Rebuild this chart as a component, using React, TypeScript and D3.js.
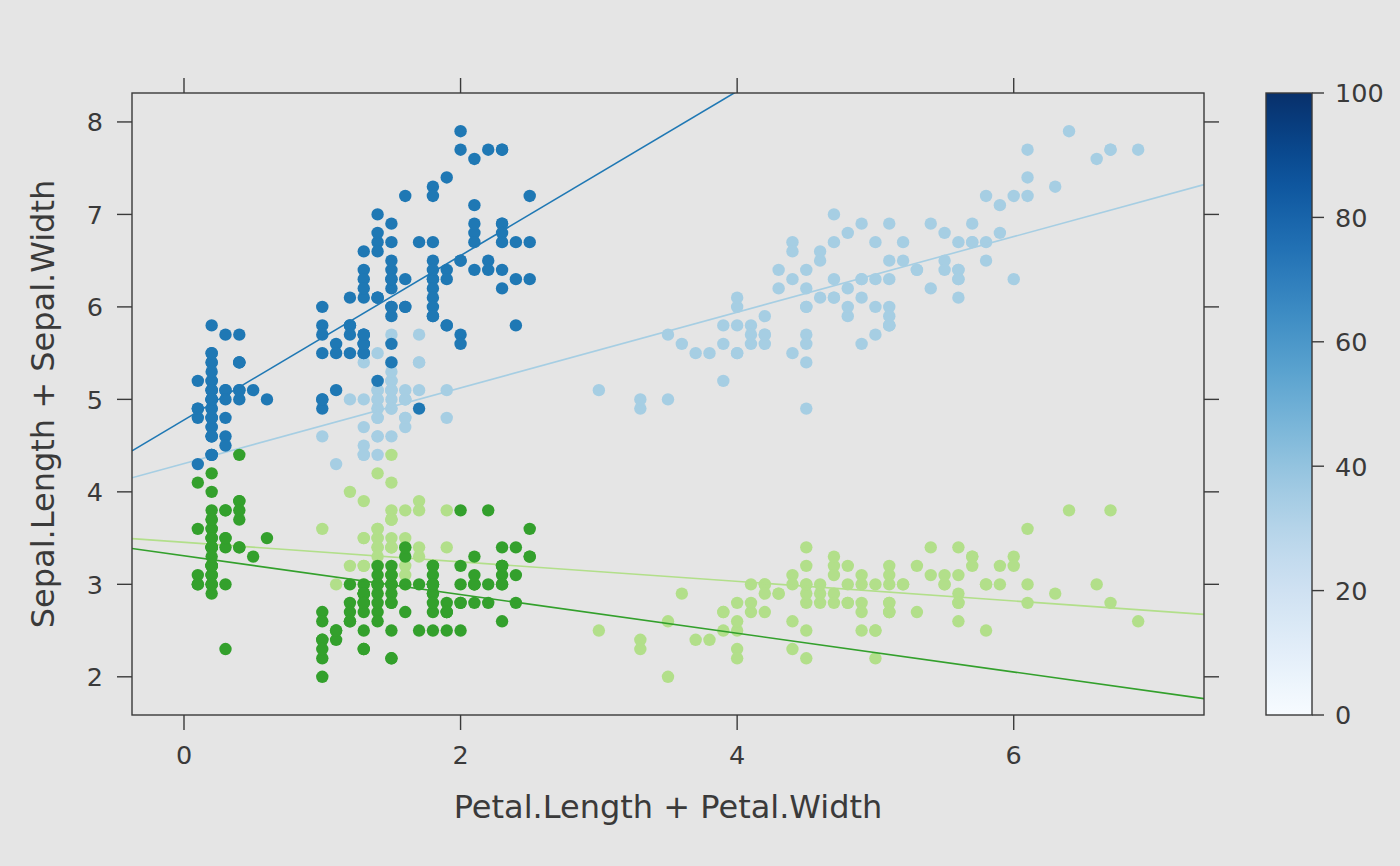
import React, { useEffect } from "react";
import * as d3 from "d3";

// Edgar Anderson's iris data (150 rows)
const sepalLength = [
  5.1, 4.9, 4.7, 4.6, 5.0, 5.4, 4.6, 5.0, 4.4, 4.9, 5.4, 4.8, 4.8, 4.3, 5.8, 5.7, 5.4, 5.1, 5.7, 5.1,
  5.4, 5.1, 4.6, 5.1, 4.8, 5.0, 5.0, 5.2, 5.2, 4.7, 4.8, 5.4, 5.2, 5.5, 4.9, 5.0, 5.5, 4.9, 4.4, 5.1,
  5.0, 4.5, 4.4, 5.0, 5.1, 4.8, 5.1, 4.6, 5.3, 5.0,
  7.0, 6.4, 6.9, 5.5, 6.5, 5.7, 6.3, 4.9, 6.6, 5.2, 5.0, 5.9, 6.0, 6.1, 5.6, 6.7, 5.6, 5.8, 6.2, 5.6,
  5.9, 6.1, 6.3, 6.1, 6.4, 6.6, 6.8, 6.7, 6.0, 5.7, 5.5, 5.5, 5.8, 6.0, 5.4, 6.0, 6.7, 6.3, 5.6, 5.5,
  5.5, 6.1, 5.8, 5.0, 5.6, 5.7, 5.7, 6.2, 5.1, 5.7,
  6.3, 5.8, 7.1, 6.3, 6.5, 7.6, 4.9, 7.3, 6.7, 7.2, 6.5, 6.4, 6.8, 5.7, 5.8, 6.4, 6.5, 7.7, 7.7, 6.0,
  6.9, 5.6, 7.7, 6.3, 6.7, 7.2, 6.2, 6.1, 6.4, 7.2, 7.4, 7.9, 6.4, 6.3, 6.1, 7.7, 6.3, 6.4, 6.0, 6.9,
  6.7, 6.9, 5.8, 6.8, 6.7, 6.7, 6.3, 6.5, 6.2, 5.9,
];
const sepalWidth = [
  3.5, 3.0, 3.2, 3.1, 3.6, 3.9, 3.4, 3.4, 2.9, 3.1, 3.7, 3.4, 3.0, 3.0, 4.0, 4.4, 3.9, 3.5, 3.8, 3.8,
  3.4, 3.7, 3.6, 3.3, 3.4, 3.0, 3.4, 3.5, 3.4, 3.2, 3.1, 3.4, 4.1, 4.2, 3.1, 3.2, 3.5, 3.6, 3.0, 3.4,
  3.5, 2.3, 3.2, 3.5, 3.8, 3.0, 3.8, 3.2, 3.7, 3.3,
  3.2, 3.2, 3.1, 2.3, 2.8, 2.8, 3.3, 2.4, 2.9, 2.7, 2.0, 3.0, 2.2, 2.9, 2.9, 3.1, 3.0, 2.7, 2.2, 2.5,
  3.2, 2.8, 2.5, 2.8, 2.9, 3.0, 2.8, 3.0, 2.9, 2.6, 2.4, 2.4, 2.7, 2.7, 3.0, 3.4, 3.1, 2.3, 3.0, 2.5,
  2.6, 3.0, 2.6, 2.3, 2.7, 3.0, 2.9, 2.9, 2.5, 2.8,
  3.3, 2.7, 3.0, 2.9, 3.0, 3.0, 2.5, 2.9, 2.5, 3.6, 3.2, 2.7, 3.0, 2.5, 2.8, 3.2, 3.0, 3.8, 2.6, 2.2,
  3.2, 2.8, 2.8, 2.7, 3.3, 3.2, 2.8, 3.0, 2.8, 3.0, 2.8, 3.8, 2.8, 2.8, 2.6, 3.0, 3.4, 3.1, 3.0, 3.1,
  3.1, 3.1, 2.7, 3.2, 3.3, 3.0, 2.5, 3.0, 3.4, 3.0,
];
const petalLength = [
  1.4, 1.4, 1.3, 1.5, 1.4, 1.7, 1.4, 1.5, 1.4, 1.5, 1.5, 1.6, 1.4, 1.1, 1.2, 1.5, 1.3, 1.4, 1.7, 1.5,
  1.7, 1.5, 1.0, 1.7, 1.9, 1.6, 1.6, 1.5, 1.4, 1.6, 1.6, 1.5, 1.5, 1.4, 1.5, 1.2, 1.3, 1.4, 1.3, 1.5,
  1.3, 1.3, 1.3, 1.6, 1.9, 1.4, 1.6, 1.4, 1.5, 1.4,
  4.7, 4.5, 4.9, 4.0, 4.6, 4.5, 4.7, 3.3, 4.6, 3.9, 3.5, 4.2, 4.0, 4.7, 3.6, 4.4, 4.5, 4.1, 4.5, 3.9,
  4.8, 4.0, 4.9, 4.7, 4.3, 4.4, 4.8, 5.0, 4.5, 3.5, 3.8, 3.7, 3.9, 5.1, 4.5, 4.5, 4.7, 4.4, 4.1, 4.0,
  4.4, 4.6, 4.0, 3.3, 4.2, 4.2, 4.2, 4.3, 3.0, 4.1,
  6.0, 5.1, 5.9, 5.6, 5.8, 6.6, 4.5, 6.3, 5.8, 6.1, 5.1, 5.3, 5.5, 5.0, 5.1, 5.3, 5.5, 6.7, 6.9, 5.0,
  5.7, 4.9, 6.7, 4.9, 5.7, 6.0, 4.8, 4.9, 5.6, 5.8, 6.1, 6.4, 5.6, 5.1, 5.6, 6.1, 5.6, 5.5, 4.8, 5.4,
  5.6, 5.1, 5.1, 5.9, 5.7, 5.2, 5.0, 5.2, 5.4, 5.1,
];
const petalWidth = [
  0.2, 0.2, 0.2, 0.2, 0.2, 0.4, 0.3, 0.2, 0.2, 0.1, 0.2, 0.2, 0.1, 0.1, 0.2, 0.4, 0.4, 0.3, 0.3, 0.3,
  0.2, 0.4, 0.2, 0.5, 0.2, 0.2, 0.4, 0.2, 0.2, 0.2, 0.2, 0.4, 0.1, 0.2, 0.2, 0.2, 0.2, 0.1, 0.2, 0.2,
  0.3, 0.3, 0.2, 0.6, 0.4, 0.3, 0.2, 0.2, 0.2, 0.2,
  1.4, 1.5, 1.5, 1.3, 1.5, 1.3, 1.6, 1.0, 1.3, 1.4, 1.0, 1.5, 1.0, 1.4, 1.3, 1.4, 1.5, 1.0, 1.5, 1.1,
  1.8, 1.3, 1.5, 1.2, 1.3, 1.4, 1.4, 1.7, 1.5, 1.0, 1.1, 1.0, 1.2, 1.6, 1.5, 1.6, 1.5, 1.3, 1.3, 1.3,
  1.2, 1.4, 1.2, 1.0, 1.3, 1.2, 1.3, 1.3, 1.1, 1.3,
  2.5, 1.9, 2.1, 1.8, 2.2, 2.1, 1.7, 1.8, 1.8, 2.5, 2.0, 1.9, 2.1, 2.0, 2.4, 2.3, 1.8, 2.2, 2.3, 1.5,
  2.3, 2.0, 2.0, 1.8, 2.1, 1.8, 1.8, 1.8, 2.1, 1.6, 1.9, 2.0, 2.2, 1.5, 1.4, 2.3, 2.4, 1.8, 1.8, 2.1,
  2.4, 2.3, 1.9, 2.3, 2.5, 2.3, 1.9, 2.0, 2.3, 1.8,
];

const groupNames = ["Sepal.Length ~ Petal.Length", "Sepal.Length ~ Petal.Width", "Sepal.Width ~ Petal.Length", "Sepal.Width ~ Petal.Width"];
const groupX = [petalLength, petalWidth, petalLength, petalWidth];
const groupY = [sepalLength, sepalLength, sepalWidth, sepalWidth];
const groupColors = ["#A6CEE3", "#1F78B4", "#B2DF8A", "#33A02C"];

const xTicks = [0, 2, 4, 6];
const yTicks = [2, 3, 4, 5, 6, 7, 8];
const colorTicks = [0, 20, 40, 60, 80, 100];
const colorDomain = [0, 100];

const xLabel = "Petal.Length + Petal.Width";
const yLabel = "Sepal.Length + Sepal.Width";

const W = 1400;
const H = 866;
const panel = { left: 132, right: 1204, top: 93, bottom: 715 };
const cbar = { left: 1266, right: 1312 };
const BG = "#E5E5E5";
const INK = "#3A3A3A";
const FONT = "'DejaVu Sans', Verdana, sans-serif";

function padExtent(vals: number[], frac = 0.07): [number, number] {
  const [lo, hi] = d3.extent(vals) as [number, number];
  const p = (hi - lo) * frac;
  return [lo - p, hi + p];
}

function lsFit(xs: number[], ys: number[]) {
  const mx = d3.mean(xs) as number;
  const my = d3.mean(ys) as number;
  let sxy = 0;
  let sxx = 0;
  xs.forEach((x, i) => {
    sxy += (x - mx) * (ys[i] - my);
    sxx += (x - mx) * (x - mx);
  });
  const b = sxy / sxx;
  return { a: my - b * mx, b };
}

export default function App() {
  useEffect(() => {
    document.body.style.margin = "0";
    document.body.style.background = BG;
  }, []);

  const x = d3.scaleLinear().domain(padExtent(groupX.flat())).range([panel.left, panel.right]);
  const y = d3.scaleLinear().domain(padExtent(groupY.flat())).range([panel.bottom, panel.top]);
  const c = d3.scaleLinear().domain(colorDomain).range([panel.bottom, panel.top]);

  const [x0, x1] = x.domain();
  const tickLen = 15;
  const gradStops = d3.range(0, 1.0001, 0.05);

  return (
    <svg width={W} height={H} style={{ display: "block", background: BG }} fontFamily={FONT}>
      <defs>
        <clipPath id="panelClip">
          <rect x={panel.left} y={panel.top} width={panel.right - panel.left} height={panel.bottom - panel.top} />
        </clipPath>
        <linearGradient id="blues" x1="0" y1="1" x2="0" y2="0">
          {gradStops.map((t) => (
            <stop key={t} offset={t} stopColor={d3.interpolateBlues(t)} />
          ))}
        </linearGradient>
      </defs>
      <rect x={0} y={0} width={W} height={H} fill={BG} />

      {/* data */}
      <g clipPath="url(#panelClip)">
        {groupNames.map((name, gi) => {
          const xs = groupX[gi];
          const ys = groupY[gi];
          const fit = lsFit(xs, ys);
          return (
            <g key={name}>
              {xs.map((xv, i) => (
                <circle key={i} cx={x(xv)} cy={y(ys[i])} r={6.2} fill={groupColors[gi]} />
              ))}
              <line
                x1={x(x0)}
                y1={y(fit.a + fit.b * x0)}
                x2={x(x1)}
                y2={y(fit.a + fit.b * x1)}
                stroke={groupColors[gi]}
                strokeWidth={1.6}
              />
            </g>
          );
        })}
      </g>

      {/* panel border */}
      <rect
        x={panel.left}
        y={panel.top}
        width={panel.right - panel.left}
        height={panel.bottom - panel.top}
        fill="none"
        stroke={INK}
        strokeWidth={1.4}
      />

      {/* x ticks */}
      {xTicks.map((t) => (
        <g key={"x" + t}>
          <line x1={x(t)} x2={x(t)} y1={panel.bottom} y2={panel.bottom + tickLen} stroke={INK} strokeWidth={1.4} />
          <line x1={x(t)} x2={x(t)} y1={panel.top} y2={panel.top - tickLen} stroke={INK} strokeWidth={1.4} />
          <text x={x(t)} y={764} textAnchor="middle" fontSize={25.5} fill={INK}>
            {t}
          </text>
        </g>
      ))}
      {/* y ticks */}
      {yTicks.map((t) => (
        <g key={"y" + t}>
          <line x1={panel.left} x2={panel.left - tickLen} y1={y(t)} y2={y(t)} stroke={INK} strokeWidth={1.4} />
          <line x1={panel.right} x2={panel.right + tickLen} y1={y(t)} y2={y(t)} stroke={INK} strokeWidth={1.4} />
          <text x={103} y={y(t) + 9.3} textAnchor="end" fontSize={25.5} fill={INK}>
            {t}
          </text>
        </g>
      ))}

      {/* axis titles */}
      <text x={(panel.left + panel.right) / 2} y={818} textAnchor="middle" fontSize={32} fill={INK}>
        {xLabel}
      </text>
      <text
        transform={`translate(54,${(panel.top + panel.bottom) / 2}) rotate(-90)`}
        textAnchor="middle"
        fontSize={32}
        fill={INK}
      >
        {yLabel}
      </text>

      {/* colour key */}
      <rect
        x={cbar.left}
        y={c(colorDomain[1])}
        width={cbar.right - cbar.left}
        height={c(colorDomain[0]) - c(colorDomain[1])}
        fill="url(#blues)"
        stroke={INK}
        strokeWidth={1.4}
      />
      {colorTicks.map((t) => (
        <g key={"c" + t}>
          <line x1={cbar.right} x2={cbar.right + 12} y1={c(t)} y2={c(t)} stroke={INK} strokeWidth={1.4} />
          <text x={1335} y={c(t) + 9.3} textAnchor="start" fontSize={25.5} fill={INK}>
            {t}
          </text>
        </g>
      ))}
    </svg>
  );
}
